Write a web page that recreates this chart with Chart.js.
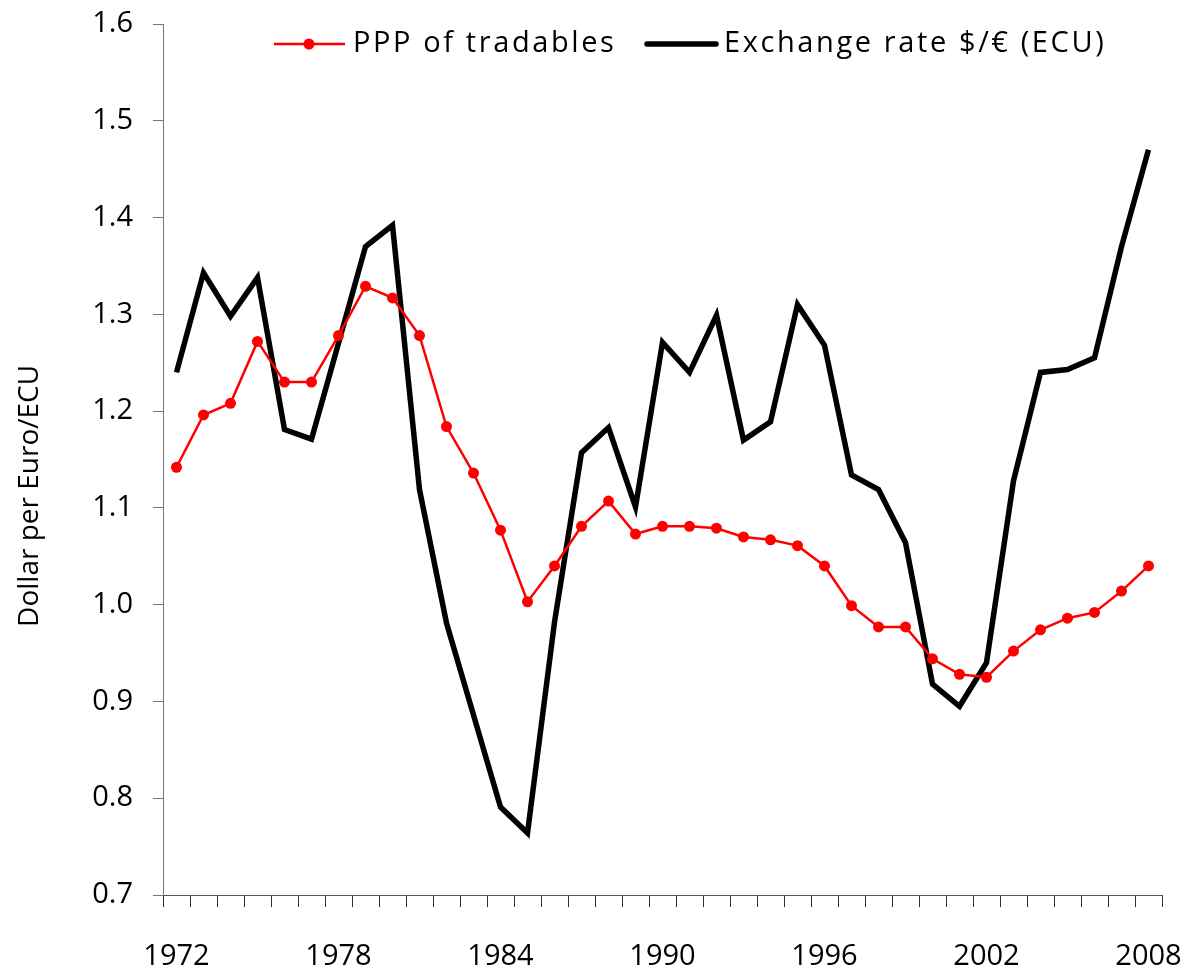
<!DOCTYPE html>
<html>
<head>
<meta charset="utf-8">
<script src="https://cdn.jsdelivr.net/npm/chart.js@4"></script>
<style>
  html, body { margin: 0; padding: 0; background: #fff; }
  #wrap { width: 1187px; height: 972px; }
</style>
</head>
<body>
<div id="wrap"><canvas id="c" width="1187" height="972"></canvas></div>
<script>
const years = [1972,1973,1974,1975,1976,1977,1978,1979,1980,1981,1982,1983,1984,1985,1986,1987,1988,1989,1990,1991,1992,1993,1994,1995,1996,1997,1998,1999,2000,2001,2002,2003,2004,2005,2006,2007,2008];
const labelledYears = [1972,1978,1984,1990,1996,2002,2008];
const pppTradables = [1.142,1.196,1.208,1.272,1.230,1.230,1.278,1.329,1.317,1.278,
                      1.184,1.136,1.077,1.003,1.040,1.081,1.107,1.073,1.081,1.081,
                      1.079,1.070,1.067,1.061,1.040,0.999,0.977,0.977,0.944,0.928,
                      0.925,0.952,0.974,0.986,0.992,1.014,1.040];
const exchangeRate = [1.240,1.343,1.298,1.338,1.181,1.171,1.270,1.370,1.392,1.119,
                      0.981,0.886,0.791,0.764,0.982,1.157,1.183,1.101,1.271,1.240,
                      1.299,1.170,1.189,1.310,1.268,1.134,1.119,1.064,0.918,0.895,
                      0.940,1.128,1.240,1.243,1.255,1.370,1.470];
const seriesNames = ['PPP of tradables', 'Exchange rate $/\u20AC (ECU)'];
const yTitle = 'Dollar per Euro/ECU';

const FONT = '"Open Sans", "Noto Sans", sans-serif';

const legendPlugin = {
  id: 'inlineLegend',
  afterDraw(chart) {
    const ctx = chart.ctx;
    const L = chart.chartArea.left;
    const y = chart.chartArea.top + 20;
    ctx.save();
    ctx.strokeStyle = '#ff0000';
    ctx.lineWidth = 2.5;
    ctx.beginPath();
    ctx.moveTo(L + 111, y); ctx.lineTo(L + 182, y);
    ctx.stroke();
    ctx.fillStyle = '#ff0000';
    ctx.beginPath();
    ctx.arc(L + 146, y, 5.5, 0, Math.PI * 2);
    ctx.fill();
    ctx.fillStyle = '#000';
    ctx.font = '29px ' + FONT;
    ctx.textAlign = 'left';
    ctx.textBaseline = 'middle';
    try { ctx.letterSpacing = '2.6px'; } catch (e) {}
    ctx.fillText(seriesNames[0], L + 190, y);
    ctx.strokeStyle = '#000';
    ctx.lineWidth = 5.5;
    ctx.lineCap = 'round';
    ctx.beginPath();
    ctx.moveTo(L + 484, y); ctx.lineTo(L + 553, y);
    ctx.stroke();
    ctx.fillText(seriesNames[1], L + 561, y);
    ctx.restore();
  }
};

new Chart(document.getElementById('c'), {
  type: 'line',
  data: {
    labels: years.map(String),
    datasets: [
      {
        label: seriesNames[0],
        data: pppTradables,
        borderColor: '#ff0000',
        backgroundColor: '#ff0000',
        borderWidth: 2.5,
        pointRadius: 5.5,
        pointBorderWidth: 0,
        pointBackgroundColor: '#ff0000',
        tension: 0
      },
      {
        label: seriesNames[1],
        data: exchangeRate,
        borderColor: '#000000',
        backgroundColor: '#000000',
        borderWidth: 5.5,
        pointRadius: 0,
        tension: 0,
        borderJoinStyle: 'miter'
      }
    ]
  },
  options: {
    responsive: false,
    animation: false,
    layout: { padding: { top: 24, right: 25, left: 0, bottom: 0 } },
    plugins: {
      legend: { display: false },
      tooltip: { enabled: false }
    },
    scales: {
      x: {
        type: 'category',
        offset: true,
        afterFit(scale) {
          scale.height = 77;
          scale.paddingLeft = 0; scale.paddingRight = 0;
          scale.paddingTop = 0; scale.paddingBottom = 0;
        },
        grid: {
          offset: true,
          drawOnChartArea: false,
          drawTicks: true,
          tickLength: 12,
          color: '#333',
          lineWidth: 1
        },
        border: { display: true, color: '#555', width: 1 },
        ticks: {
          autoSkip: false,
          maxRotation: 0,
          minRotation: 0,
          padding: 32,
          color: '#000',
          font: { family: FONT, size: 29 },
          callback(value, index) {
            const yr = years[index];
            return labelledYears.includes(yr) ? String(yr) : '';
          }
        }
      },
      y: {
        min: 0.7,
        max: 1.6,
        afterFit(scale) {
          scale.width = 163;
          scale.paddingLeft = 0; scale.paddingRight = 0;
          scale.paddingTop = 0; scale.paddingBottom = 0;
        },
        grid: {
          drawOnChartArea: false,
          drawTicks: true,
          tickLength: 10,
          color: '#777',
          lineWidth: 1
        },
        border: { display: true, color: '#777', width: 1 },
        ticks: {
          stepSize: 0.1,
          padding: 20,
          color: '#000',
          font: { family: FONT, size: 29 },
          callback(value) { return Number(value).toFixed(1); }
        },
        title: {
          display: true,
          text: yTitle + '\u00A0\u00A0\u00A0\u00A0\u00A0\u00A0\u00A0\u00A0\u00A0\u00A0',
          color: '#000',
          font: { family: FONT, size: 28 },
          padding: { top: 13, bottom: 0 }
        }
      }
    }
  },
  plugins: [legendPlugin]
});
</script>
</body>
</html>
